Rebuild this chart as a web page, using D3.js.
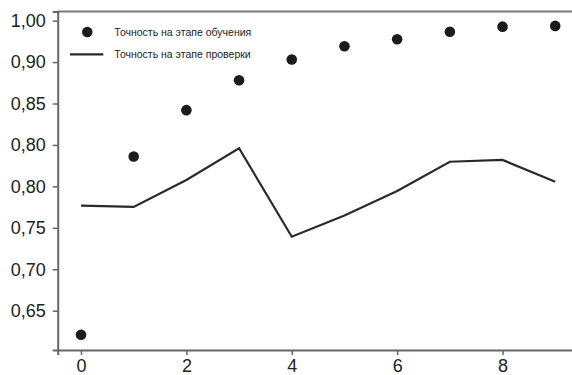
<!DOCTYPE html>
<html><head><meta charset="utf-8">
<script src="https://cdn.jsdelivr.net/npm/d3@7"></script>
<style>html,body{margin:0;padding:0;background:#fff;overflow:hidden}svg{display:block;font-family:"Liberation Sans",Arial,sans-serif}</style>
</head><body><svg id="c" width="572" height="375"></svg>
<script>
const epochs = [0,1,2,3,4,5,6,7,8,9];
const trainAcc = [0.621,0.836,0.892,0.928,0.953,0.969,0.9775,0.9866,0.9927,0.9936];
const valAcc = [0.7767,0.7752,0.8077,0.846,0.7393,0.7649,0.7945,0.8297,0.8319,0.8056];
const yTickValues = [0.65,0.70,0.75,0.80,0.85,0.90,0.95,1.00];
const yTickLabels = ["0,65","0,70","0,75","0,80","0,80","0,85","0,90","1,00"];
const xTickValues = [0,2,4,6,8];
const seriesNames = ["Точность на этапе обучения","Точность на этапе проверки"];

const svg = d3.select("#c");
const L = 57.7, R = 580, T = 11.5, B = 350;
const x = d3.scaleLinear().domain([-0.442, 9.47]).range([L, R]);
const y = d3.scaleLinear().domain([0.6026, 1.011]).range([B, T]);
const axisCol = "#666";

// frame top
svg.append("line").attr("x1",L).attr("x2",R).attr("y1",T).attr("y2",T)
  .attr("stroke","#7a7a7a").attr("stroke-width",2);

const yAxis = svg.append("g").attr("transform",`translate(${L},0)`)
  .call(d3.axisLeft(y).tickValues(yTickValues).tickSize(5).tickPadding(7)
    .tickFormat((d,i)=>yTickLabels[i]));
const xAxis = svg.append("g").attr("transform",`translate(0,${B})`)
  .call(d3.axisBottom(x).tickValues(xTickValues).tickSize(5).tickPadding(4)
    .tickFormat(d=>d));
[yAxis,xAxis].forEach(g=>{
  g.select(".domain").attr("stroke",axisCol).attr("stroke-width",2);
  g.selectAll(".tick line").attr("stroke",axisCol).attr("stroke-width",1.5);
  g.selectAll("text").attr("fill","#222").attr("font-size","18px")
    .attr("font-family","'Liberation Sans',Arial,sans-serif");
});

// validation line
svg.append("path").datum(epochs)
  .attr("d", d3.line().x(d=>x(d)).y((d,i)=>y(valAcc[i])))
  .attr("fill","none").attr("stroke","#2a2a2a").attr("stroke-width",2.2);

// training points
svg.append("g").selectAll("circle").data(epochs).join("circle")
  .attr("cx",d=>x(d)).attr("cy",(d,i)=>y(trainAcc[i])).attr("r",5.3)
  .attr("fill","#1c1c1c");

// legend
const lg = svg.append("g");
lg.append("circle").attr("cx",87.3).attr("cy",32).attr("r",5.3).attr("fill","#1c1c1c");
lg.append("line").attr("x1",70).attr("x2",103.3).attr("y1",54.3).attr("y2",54.3)
  .attr("stroke","#2a2a2a").attr("stroke-width",2.2);
lg.selectAll("text").data(seriesNames).join("text")
  .attr("x",114.3).attr("y",(d,i)=>i===0?32:54.3).attr("dy","0.35em")
  .attr("font-size","10.5px").attr("fill","#222").text(d=>d);
</script></body></html>
